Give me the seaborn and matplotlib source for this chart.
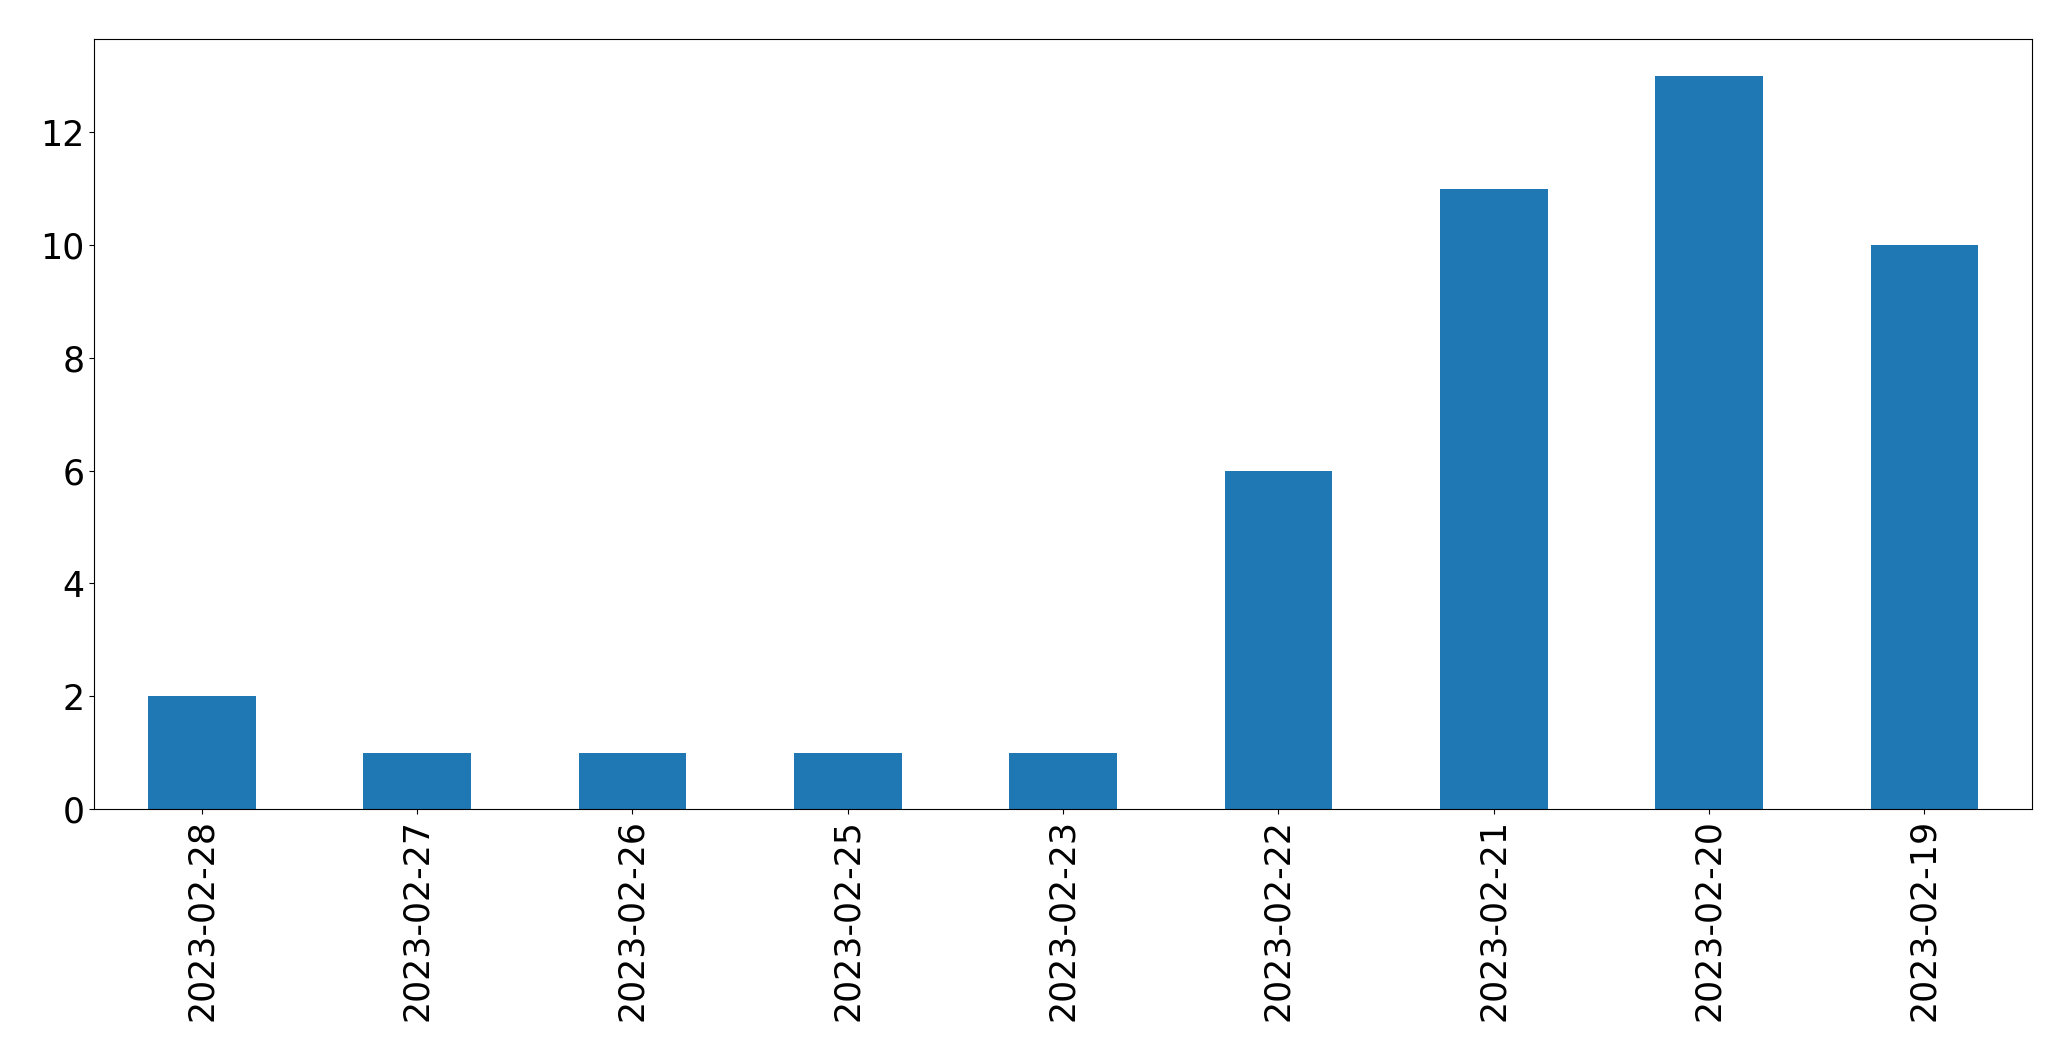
import matplotlib
matplotlib.use("Agg")
import matplotlib.pyplot as plt
import seaborn as sns
import pandas as pd

dates = ["2023-02-28", "2023-02-27", "2023-02-26", "2023-02-25", "2023-02-23",
         "2023-02-22", "2023-02-21", "2023-02-20", "2023-02-19"]
counts = [2, 1, 1, 1, 1, 6, 11, 13, 10]

df = pd.DataFrame({"date": dates, "count": counts})

fig = plt.figure(figsize=(20.71, 10.61), dpi=100)
ax = fig.add_axes([0.0454, 0.2375, 0.9358, 0.7257])

sns.barplot(data=df, x="date", y="count", order=dates, color="#1f77b4",
            saturation=1, width=0.5, ax=ax)
ax.set_xlim(-0.5, len(dates) - 0.5)
ax.set_ylim(0, max(counts) * 1.05)
ax.set_xlabel("")
ax.set_ylabel("")
ax.tick_params(axis="both", labelsize=25)
ax.tick_params(axis="x", labelrotation=90)

fig.savefig("out.png", dpi=100)
